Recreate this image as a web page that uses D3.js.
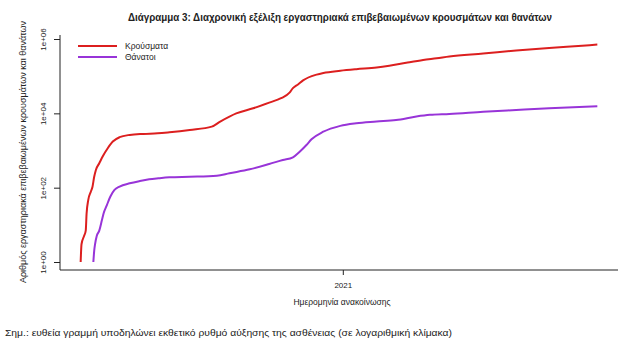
<!DOCTYPE html>
<html>
<head>
<meta charset="utf-8">
<script src="https://cdn.jsdelivr.net/npm/d3@7"></script>
<style>
  body { margin: 0; background: #fff; }
  text { font-family: "Liberation Sans", Arial, sans-serif; fill: #222; }
</style>
</head>
<body>
<div id="chart-wrapper"></div>
<script>
// Cumulative confirmed cases
const caseDates = ["2020-02-26","2020-02-27","2020-03-01","2020-03-03","2020-03-04","2020-03-06","2020-03-09","2020-03-11","2020-03-13","2020-03-15","2020-03-19","2020-03-23","2020-03-29","2020-04-04","2020-04-12","2020-04-24","2020-05-10","2020-05-27","2020-06-10","2020-07-04","2020-07-30","2020-08-09","2020-08-28","2020-09-17","2020-10-06","2020-10-20","2020-10-30","2020-11-03","2020-11-09","2020-11-15","2020-12-01","2020-12-09","2020-12-29","2021-01-17","2021-02-10","2021-02-25","2021-03-17","2021-04-06","2021-04-22","2021-05-07","2021-06-16","2021-07-25","2021-09-02","2021-10-11","2021-10-29"];
const caseValues = [1,3,5,7,20,47,78,106,196,300,455,690,1150,1740,2280,2630,2800,2900,3100,3580,4390,6000,10000,13700,19400,25500,36000,47600,60000,77000,110000,122000,140000,154000,170000,190000,230000,274000,303000,337000,405000,490000,576000,661000,708000];

// Cumulative deaths
const deathDates = ["2020-03-12","2020-03-13","2020-03-14","2020-03-16","2020-03-19","2020-03-22","2020-03-24","2020-03-28","2020-04-01","2020-04-06","2020-04-12","2020-04-24","2020-05-06","2020-05-17","2020-05-28","2020-06-10","2020-07-04","2020-08-05","2020-08-20","2020-09-13","2020-10-06","2020-10-22","2020-11-03","2020-11-11","2020-11-19","2020-11-25","2020-12-09","2020-12-29","2021-01-17","2021-02-10","2021-03-05","2021-03-29","2021-04-14","2021-05-07","2021-06-16","2021-07-25","2021-09-02","2021-10-29"];
const deathValues = [1,2,3,5,7,13,20,34,57,87,107,131,151,168,179,190,197,210,245,312,433,555,657,930,1410,2000,3200,4600,5400,6000,6600,8200,9100,9600,11000,12300,13700,15500];

const seriesNames = ["Κρούσματα", "Θάνατοι"];
const seriesColors = ["#dc1f1f", "#9834d8"];
const yTickValues = [1, 1e2, 1e4, 1e6];
const yTickLabels = ["1e+00", "1e+02", "1e+04", "1e+06"];
const xTickValues = ["2021-01-01"];
const xTickLabels = ["2021"];

const titleText = "Διάγραμμα 3: Διαχρονική εξέλιξη εργαστηριακά επιβεβαιωμένων κρουσμάτων και θανάτων";
const yTitle = "Αριθμός εργαστηριακά επιβεβαιωμένων κρουσμάτων και θανάτων";
const xTitle = "Ημερομηνία ανακοίνωσης";
const noteText = "Σημ.: ευθεία γραμμή υποδηλώνει εκθετικό ρυθμό αύξησης της ασθένειας (σε λογαριθμική κλίμακα)";

const initChart = () => {
  const parse = d3.timeParse("%Y-%m-%d");
  const series = [
    caseDates.map((d, i) => ({ date: parse(d), val: caseValues[i] })),
    deathDates.map((d, i) => ({ date: parse(d), val: deathValues[i] }))
  ];

  const fullWidth = 619, fullHeight = 354;
  const plot = { left: 60, right: 618, top: 35, bottom: 270 };

  const svg = d3.select("#chart-wrapper").append("svg")
    .attr("width", fullWidth)
    .attr("height", fullHeight);

  // R-style 4% padding around the data range
  const allDates = series.flat().map(d => d.date);
  const [d0, d1] = d3.extent(allDates);
  const pad = (d1 - d0) * 0.04;
  const xScale = d3.scaleTime()
    .domain([new Date(+d0 - pad), new Date(+d1 + pad)])
    .range([plot.left, plot.right]);

  const yScale = d3.scaleLog()
    .domain([Math.pow(10, -0.215), Math.pow(10, 6.108)])
    .range([plot.bottom, plot.top]);

  // frame (left + bottom)
  svg.append("path")
    .attr("d", `M${plot.left},${plot.top}V${plot.bottom}H${plot.right}`)
    .attr("fill", "none")
    .attr("stroke", "#222")
    .attr("stroke-width", 1);

  // y axis
  const yAxis = d3.axisLeft(yScale)
    .tickValues(yTickValues)
    .tickSize(6)
    .tickFormat((d, i) => yTickLabels[i]);
  const gy = svg.append("g")
    .attr("transform", `translate(${plot.left},0)`)
    .call(yAxis);
  gy.select(".domain").remove();
  gy.selectAll("line").attr("stroke", "#222");
  gy.selectAll("text")
    .attr("x", null)
    .attr("text-anchor", "middle")
    .attr("font-size", 8)
    .attr("font-family", "Liberation Sans, Arial, sans-serif")
    .attr("transform", "translate(-17,0) rotate(-90)")
    .attr("y", 0)
    .attr("dy", "0.35em");

  // x axis
  const xAxis = d3.axisBottom(xScale)
    .tickValues(xTickValues.map(parse))
    .tickSize(5)
    .tickFormat((d, i) => xTickLabels[i]);
  const gx = svg.append("g")
    .attr("transform", `translate(0,${plot.bottom})`)
    .call(xAxis);
  gx.select(".domain").remove();
  gx.selectAll("line").attr("stroke", "#222");
  gx.selectAll("text")
    .attr("y", 12)
    .attr("font-size", 8)
    .attr("font-family", "Liberation Sans, Arial, sans-serif");

  // lines
  const line = d3.line()
    .x(d => xScale(d.date))
    .y(d => yScale(d.val))
    .curve(d3.curveMonotoneX);

  svg.selectAll(".series")
    .data(series)
    .enter()
    .append("path")
    .classed("series", true)
    .attr("d", line)
    .attr("fill", "none")
    .attr("stroke", (d, i) => seriesColors[i])
    .attr("stroke-width", 2)
    .attr("stroke-linejoin", "round");

  // legend
  const legend = svg.append("g").attr("transform", "translate(78,46)");
  seriesNames.forEach((name, i) => {
    const g = legend.append("g").attr("transform", `translate(0,${i * 11})`);
    g.append("line")
      .attr("x1", 0).attr("x2", 39)
      .attr("stroke", seriesColors[i])
      .attr("stroke-width", 2.2);
    g.append("text")
      .attr("x", 47).attr("dy", "0.35em")
      .attr("font-size", 8.5)
      .text(name);
  });

  // title
  svg.append("text")
    .attr("x", 128).attr("y", 21)
    .attr("font-size", 10.5)
    .attr("font-weight", "bold")
    .attr("textLength", 424)
    .attr("lengthAdjust", "spacingAndGlyphs")
    .text(titleText);

  // axis titles
  svg.append("text")
    .attr("transform", "translate(26,152) rotate(-90)")
    .attr("text-anchor", "middle")
    .attr("font-size", 8.5)
    .attr("textLength", 262)
    .attr("lengthAdjust", "spacingAndGlyphs")
    .text(yTitle);

  svg.append("text")
    .attr("x", 342).attr("y", 305)
    .attr("text-anchor", "middle")
    .attr("font-size", 8.5)
    .text(xTitle);

  // footnote
  svg.append("text")
    .attr("x", 5).attr("y", 336)
    .attr("font-size", 9.5)
    .attr("textLength", 447)
    .attr("lengthAdjust", "spacingAndGlyphs")
    .text(noteText);
}

window.onload = () => {
  initChart();
}
</script>
</body>
</html>
